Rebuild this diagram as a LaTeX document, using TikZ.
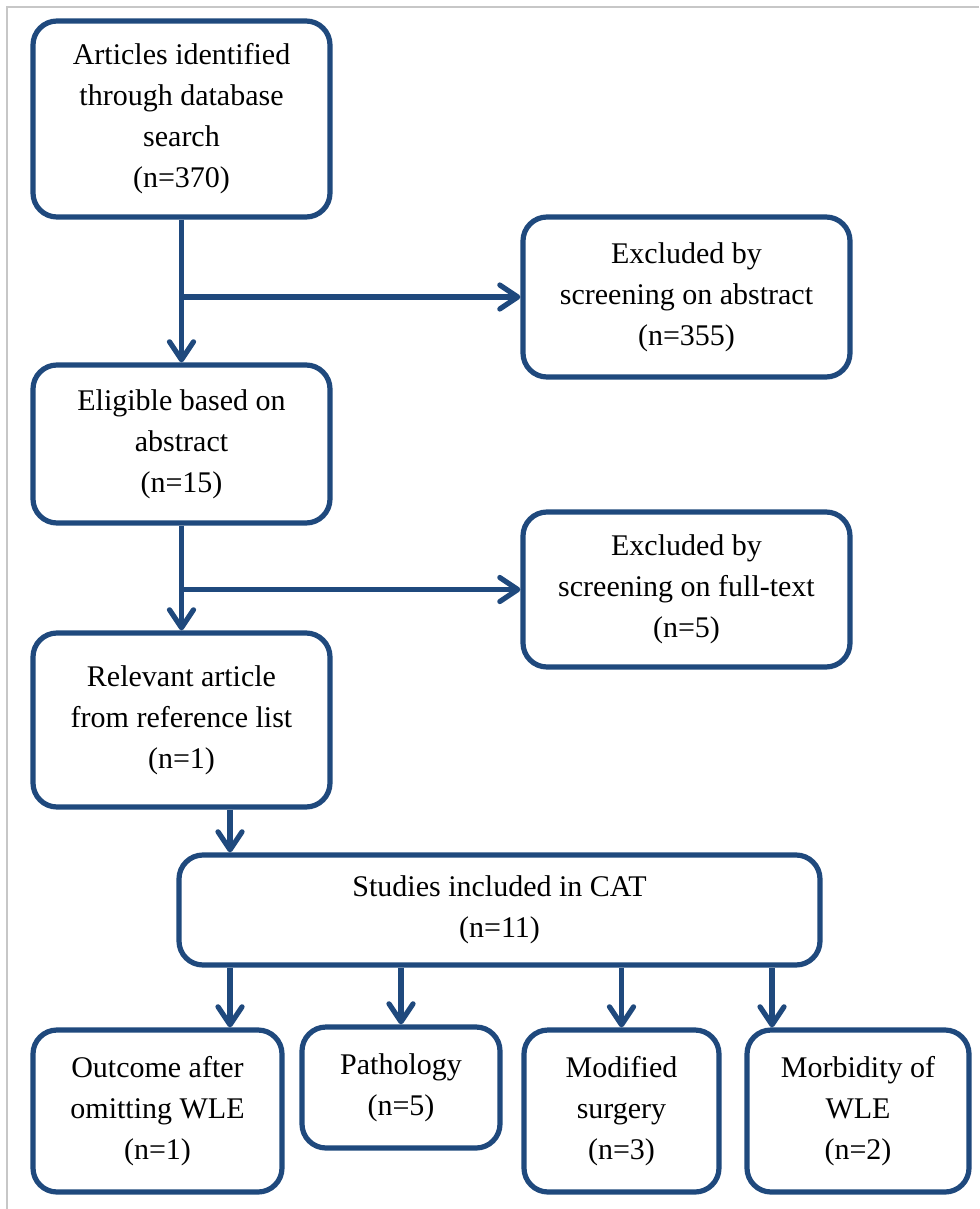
\documentclass[tikz,border=0pt]{standalone}
\usepackage{fontspec}
\setmainfont{Liberation Serif}
\usetikzlibrary{arrows.meta}
\definecolor{flowblue}{RGB}{31,73,125}
\begin{document}
\begin{tikzpicture}[x=0.5pt, y=-0.5pt,
                    line width=2.6pt,
                    >={Straight Barb[length=9pt, width=12pt, round]},
                    ]
    \tikzstyle{stage}=[draw=flowblue, rounded corners=12pt, align=center, inner sep=0pt, text=black, font=\fontsize{15pt}{20.5pt}\selectfont]
    \tikzstyle{wide}=[stage, minimum width=148.5pt]
    \tikzstyle{excl}=[stage, minimum width=163.5pt]
    \tikzstyle{flow}=[draw=flowblue, ->]
    \tikzstyle{frame}=[draw=black!22, line width=1pt]

    \useasboundingbox (0,0) rectangle (979,1209);
    \draw[frame] (979,7) -- (7,7) -- (7,1209);

    \node[wide, minimum height=98pt] (articles) at (181.5,119) {Articles identified\\through database\\search\\(n=370)};
    \node[excl, minimum height=80pt] (exabstract) at (686.5,297) {Excluded by\\screening on abstract\\(n=355)};
    \node[wide, minimum height=79pt] (eligible) at (181.5,444) {Eligible based on\\abstract\\(n=15)};
    \node[excl, minimum height=77.5pt] (exfulltext) at (686.5,589.5) {Excluded by\\screening on full-text\\(n=5)};
    \node[wide, minimum height=87pt] (relevant) at (181.5,720) {Relevant article\\from reference list\\(n=1)};
    \node[stage, minimum width=320.5pt, minimum height=55pt] (cat) at (499.5,910) {Studies included in CAT\\(n=11)};
    \node[stage, minimum width=124.5pt, minimum height=81pt] (outcome) at (157.5,1111) {Outcome after\\omitting WLE\\(n=1)};
    \node[stage, minimum width=99pt, minimum height=60.5pt] (pathology) at (401,1087.5) {Pathology\\(n=5)};
    \node[stage, minimum width=97.5pt, minimum height=81pt] (modified) at (621.5,1111) {Modified\\surgery\\(n=3)};
    \node[stage, minimum width=111pt, minimum height=81pt] (morbidity) at (858,1111) {Morbidity of\\WLE\\(n=2)};

    \coordinate (catin) at (230,0);
    \coordinate (morbin) at (772,0);

    \draw[flow] (articles) -- (eligible);
    \draw[flow] (articles.south |- exabstract.west) -- (exabstract.west);
    \draw[flow] (eligible) -- (relevant);
    \draw[flow] (eligible.south |- exfulltext.west) -- (exfulltext.west);
    \draw[flow] (relevant.south -| catin) -- (cat.north -| catin);
    \draw[flow] (cat.south -| catin) -- (outcome.north -| catin);
    \draw[flow] (cat.south -| pathology) -- (pathology);
    \draw[flow] (cat.south -| modified) -- (modified);
    \draw[flow] (cat.south -| morbin) -- (morbidity.north -| morbin);
\end{tikzpicture}
\end{document}
